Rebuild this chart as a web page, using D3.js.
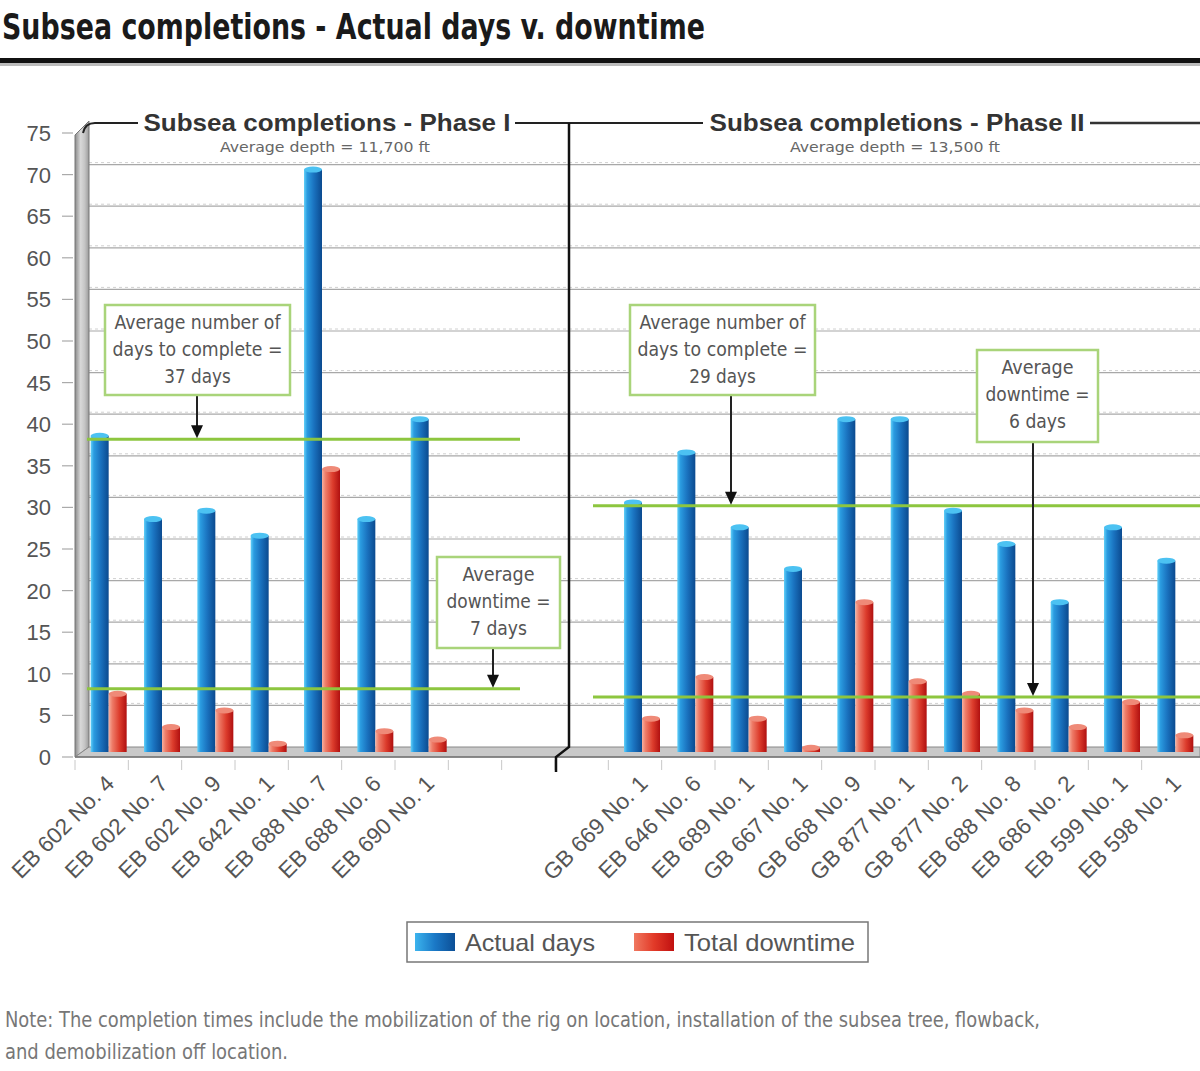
<!DOCTYPE html>
<html>
<head>
<meta charset="utf-8">
<script src="https://cdn.jsdelivr.net/npm/d3@7/dist/d3.min.js"></script>
<style>
  html, body { margin: 0; padding: 0; background: #fff; }
  svg { display: block; }
  text { font-family: "Liberation Sans", Arial, sans-serif; }
</style>
</head>
<body>
<svg id="chart" width="1200" height="1071"></svg>
<script>
// ---------------- DATA ----------------
const phase1Labels = ["EB 602 No. 4","EB 602 No. 7","EB 602 No. 9","EB 642 No. 1","EB 688 No. 7","EB 688 No. 6","EB 690 No. 1"];
const phase1Actual = [38, 28, 29, 26, 70, 28, 40];
const phase1Downtime = [7, 3, 5, 1, 34, 2.5, 1.5];

const phase2Labels = ["GB 669 No. 1","EB 646 No. 6","EB 689 No. 1","GB 667 No. 1","GB 668 No. 9","GB 877 No. 1","GB 877 No. 2","EB 688 No. 8","EB 686 No. 2","EB 599 No. 1","EB 598 No. 1"];
const phase2Actual = [30, 36, 27, 22, 40, 40, 29, 25, 18, 27, 23];
const phase2Downtime = [4, 9, 4, 0.5, 18, 8.5, 7, 5, 3, 6, 2];

const gapSlots = ["gap1", "gap2", "gap3"];
const yTickValues = [0, 5, 10, 15, 20, 25, 30, 35, 40, 45, 50, 55, 60, 65, 70, 75];

const phaseTitles = ["Subsea completions - Phase I", "Subsea completions - Phase II"];
const phaseSubtitles = ["Average depth = 11,700 ft", "Average depth = 13,500 ft"];
const avgActual = [37, 29];
const avgDowntime = [7, 6];
const seriesNames = ["Actual days", "Total downtime"];

const chartTitle = "Subsea completions - Actual days v. downtime";
const noteLines = ["Note: The completion times include the mobilization of the rig on location, installation of the subsea tree, flowback,",
                   "and demobilization off location."];

// ---------------- SETUP ----------------
const svg = d3.select("#chart");
const W = 1200;
const DX = 14, DY = -10; // 3D depth offset (back wall relative to front)
const condensed = "'Liberation Sans Narrow', 'DejaVu Sans Condensed', 'Liberation Sans', sans-serif";

const slots = [...phase1Labels.map((d, i) => "p1_" + i), ...gapSlots, ...phase2Labels.map((d, i) => "p2_" + i)];
const x = d3.scaleBand().domain(slots).range([75, 1195]).padding(0);
const y = d3.scaleLinear().domain([0, 75]).range([757, 133]);

const bars = [];
phase1Labels.forEach((l, i) => bars.push({ key: "p1_" + i, label: l, actual: phase1Actual[i], down: phase1Downtime[i] }));
phase2Labels.forEach((l, i) => bars.push({ key: "p2_" + i, label: l, actual: phase2Actual[i], down: phase2Downtime[i] }));

// gradients
const defs = svg.append("defs");
function hGrad(id, stops) {
  const g = defs.append("linearGradient").attr("id", id).attr("x1", "0%").attr("x2", "100%").attr("y1", "0%").attr("y2", "0%");
  stops.forEach(s => g.append("stop").attr("offset", s[0]).attr("stop-color", s[1]));
}
hGrad("gBlue", [["0%", "#62d0f8"], ["18%", "#2a9be0"], ["55%", "#1a72bf"], ["100%", "#0b4a8f"]]);
hGrad("gRed", [["0%", "#f6b0a0"], ["20%", "#ee7c68"], ["60%", "#dc3c2c"], ["100%", "#b01010"]]);
hGrad("gWall", [["0%", "#8a8a8a"], ["40%", "#d8d8d8"], ["70%", "#c4c4c4"], ["100%", "#9a9a9a"]]);
hGrad("gLegBlue", [["0%", "#3cb4ee"], ["50%", "#1a78c6"], ["100%", "#0c4f96"]]);
hGrad("gLegRed", [["0%", "#f07860"], ["50%", "#e23a28"], ["100%", "#c01010"]]);

// ---------------- TITLE ----------------
svg.append("text").attr("x", 2).attr("y", 39)
  .attr("textLength", 703).attr("lengthAdjust", "spacingAndGlyphs")
  .style("font-family", condensed)
  .style("font-weight", "bold").style("font-size", "36px").attr("fill", "#1a1a1a")
  .text(chartTitle);
svg.append("rect").attr("x", 0).attr("y", 63).attr("width", W).attr("height", 3).attr("fill", "#bbb");
svg.append("rect").attr("x", 0).attr("y", 58).attr("width", W).attr("height", 5).attr("fill", "#111");

// ---------------- BACK WALL GRID ----------------
const backLeft = x.range()[0] + DX;
const grid = svg.append("g");
yTickValues.filter(v => v > 0 && v < 75).forEach(v => {
  const yy = y(v) + DY;
  grid.append("line").attr("x1", backLeft).attr("x2", W).attr("y1", yy).attr("y2", yy)
    .attr("stroke", "#a8a8a8").attr("stroke-width", 1.2);
  grid.append("line").attr("x1", backLeft).attr("x2", W).attr("y1", yy - 2).attr("y2", yy - 2)
    .attr("stroke", "#d0d0d0").attr("stroke-width", 1).attr("stroke-dasharray", "3,3");
});

// ---------------- LEFT WALL & FLOOR ----------------
const x0 = x.range()[0];
svg.append("path")
  .attr("d", `M${x0},${y(75) + 2} L${x0 + DX},${y(75) + DY - 2} L${x0 + DX},${y(0) + DY} L${x0},${y(0)} Z`)
  .attr("fill", "url(#gWall)").attr("stroke", "#777").attr("stroke-width", 1);
svg.append("path")
  .attr("d", `M${x0},${y(0)} L${x0 + DX},${y(0) + DY} L${W},${y(0) + DY} L${W},${y(0)} Z`)
  .attr("fill", "#c9c9c9").attr("stroke", "#888").attr("stroke-width", 1);
svg.append("line").attr("x1", x0).attr("x2", W).attr("y1", y(0)).attr("y2", y(0))
  .attr("stroke", "#777").attr("stroke-width", 1.5);

// frame top line with rounded corner, broken by titles
const topY = y(75) + DY;
const divX = x("gap3") + DX;
svg.append("path")
  .attr("d", `M${x0 + DX - 6},${topY + 10} Q${x0 + DX - 4},${topY} ${x0 + DX + 6},${topY} L138,${topY}`)
  .attr("fill", "none").attr("stroke", "#222").attr("stroke-width", 2);
svg.append("line").attr("x1", 515).attr("x2", 703).attr("y1", topY).attr("y2", topY).attr("stroke", "#222").attr("stroke-width", 2);
svg.append("line").attr("x1", 1090).attr("x2", W).attr("y1", topY).attr("y2", topY).attr("stroke", "#333").attr("stroke-width", 2.5);

// y axis ticks & labels (front)
const yAxisG = svg.append("g");
yTickValues.forEach(v => {
  yAxisG.append("line").attr("x1", x0 - 13).attr("x2", x0 - 2).attr("y1", y(v)).attr("y2", y(v))
    .attr("stroke", "#aaa").attr("stroke-width", 1.2);
  yAxisG.append("text").attr("x", 51).attr("y", y(v) + 8).attr("text-anchor", "end")
    .style("font-size", "22px").attr("fill", "#555").text(v);
});

// x axis slot ticks
const xTickG = svg.append("g");
slots.forEach(s => {
  const xx = x(s);
  xTickG.append("line").attr("x1", xx).attr("x2", xx).attr("y1", y(0) + 3).attr("y2", y(0) + 13)
    .attr("stroke", "#c8c8c8").attr("stroke-width", 1);
});

// ---------------- BARS ----------------
const bw = 18;
const barG = svg.append("g");
function drawBar(cx, v, fill, capColor) {
  const top = y(v) + DY / 2, base = y(0) + DY / 2;
  barG.append("rect").attr("x", cx).attr("y", top).attr("width", bw).attr("height", Math.max(0, base - top))
    .attr("fill", fill);
  barG.append("ellipse").attr("cx", cx + bw / 2).attr("cy", top).attr("rx", bw / 2).attr("ry", 3)
    .attr("fill", capColor);
}
bars.forEach(d => {
  const c = x(d.key) + x.bandwidth() / 2 + DX / 2;
  drawBar(c - bw, d.actual, "url(#gBlue)", "#4cc2f2");
  drawBar(c, d.down, "url(#gRed)", "#ef8a78");
});

// divider with break mark
svg.append("path")
  .attr("d", `M${divX},${topY} L${divX},${y(0) + DY} L${divX - 13},${y(0)} L${divX - 13},${y(0) + 15}`)
  .attr("fill", "none").attr("stroke", "#111").attr("stroke-width", 2.5);

// x labels
const xLabG = svg.append("g");
bars.forEach(d => {
  const c = x(d.key) + x.bandwidth() / 2;
  xLabG.append("text")
    .attr("transform", `translate(${c + 14},${y(0) + 28}) rotate(-45)`)
    .attr("text-anchor", "end").style("font-size", "22.5px").attr("fill", "#555")
    .text(d.label);
});

// ---------------- AVERAGE LINES ----------------
const green = "#8dc63f";
const phaseLineX = [[x0 + DX - 2, 520], [593, W]];
[0, 1].forEach(p => {
  [avgActual[p], avgDowntime[p]].forEach(v => {
    svg.append("line").attr("x1", phaseLineX[p][0]).attr("x2", phaseLineX[p][1])
      .attr("y1", y(v) + DY).attr("y2", y(v) + DY)
      .attr("stroke", green).attr("stroke-width", 3);
  });
});

// ---------------- PANEL TITLES ----------------
const titleCx = [327, 897];
const titleLen = [367, 375];
[0, 1].forEach(p => {
  svg.append("text").attr("x", titleCx[p]).attr("y", 131).attr("text-anchor", "middle")
    .attr("textLength", titleLen[p]).attr("lengthAdjust", "spacingAndGlyphs")
    .style("font-size", "24px").style("font-weight", "bold").attr("fill", "#333")
    .text(phaseTitles[p]);
  svg.append("text").attr("x", titleCx[p] - 2).attr("y", 152).attr("text-anchor", "middle")
    .attr("textLength", 210).attr("lengthAdjust", "spacingAndGlyphs")
    .style("font-family", condensed)
    .style("font-size", "14px").attr("fill", "#666")
    .text(phaseSubtitles[p]);
});

// ---------------- ANNOTATIONS ----------------
const annG = svg.append("g");
const lineLens = { "Average number of": 166, "days to complete =": 170, "Average": 72, "downtime =": 104 };
function annotation(bx, by, bwid, bht, lines, ax, targetY) {
  annG.append("line").attr("x1", ax).attr("x2", ax).attr("y1", by + bht).attr("y2", targetY - 10)
    .attr("stroke", "#222").attr("stroke-width", 2);
  annG.append("path").attr("d", `M${ax - 6},${targetY - 14} L${ax + 6},${targetY - 14} L${ax},${targetY - 1} Z`)
    .attr("fill", "#111");
  annG.append("rect").attr("x", bx).attr("y", by).attr("width", bwid).attr("height", bht)
    .attr("fill", "#fff").attr("stroke", "#a9d47a").attr("stroke-width", 2.5);
  lines.forEach((t, i) => {
    const tx = annG.append("text").attr("x", bx + bwid / 2).attr("y", by + 24 + i * 27).attr("text-anchor", "middle")
      .style("font-family", condensed)
      .style("font-size", "20px").attr("fill", "#555").text(t);
    const len = lineLens[t] || (t.length * 9.5);
    tx.attr("textLength", len).attr("lengthAdjust", "spacingAndGlyphs");
  });
}
annotation(105, 305, 185, 90, ["Average number of", "days to complete =", avgActual[0] + " days"], 197, y(avgActual[0]) + DY);
annotation(437, 557, 123, 91, ["Average", "downtime =", avgDowntime[0] + " days"], 493, y(avgDowntime[0]) + DY);
annotation(630, 305, 185, 90, ["Average number of", "days to complete =", avgActual[1] + " days"], 731, y(avgActual[1]) + DY);
annotation(977, 350, 121, 92, ["Average", "downtime =", avgDowntime[1] + " days"], 1033, y(avgDowntime[1]) + DY);

// ---------------- LEGEND ----------------
const leg = svg.append("g");
leg.append("rect").attr("x", 407).attr("y", 922).attr("width", 461).attr("height", 40)
  .attr("fill", "#fff").attr("stroke", "#777").attr("stroke-width", 1.5);
leg.append("rect").attr("x", 415).attr("y", 933).attr("width", 40).attr("height", 18).attr("fill", "url(#gLegBlue)");
leg.append("text").attr("x", 465).attr("y", 951).attr("textLength", 130).attr("lengthAdjust", "spacingAndGlyphs")
  .style("font-size", "24px").attr("fill", "#555").text(seriesNames[0]);
leg.append("rect").attr("x", 634).attr("y", 933).attr("width", 40).attr("height", 18).attr("fill", "url(#gLegRed)");
leg.append("text").attr("x", 684).attr("y", 951).attr("textLength", 171).attr("lengthAdjust", "spacingAndGlyphs")
  .style("font-size", "24px").attr("fill", "#555").text(seriesNames[1]);

// ---------------- NOTE ----------------
const noteLen = [1035, 283];
noteLines.forEach((t, i) => {
  svg.append("text").attr("x", 5).attr("y", 1027 + i * 32)
    .attr("textLength", noteLen[i]).attr("lengthAdjust", "spacingAndGlyphs")
    .style("font-family", condensed)
    .style("font-size", "21px").attr("fill", "#777").text(t);
});
</script>
</body>
</html>
